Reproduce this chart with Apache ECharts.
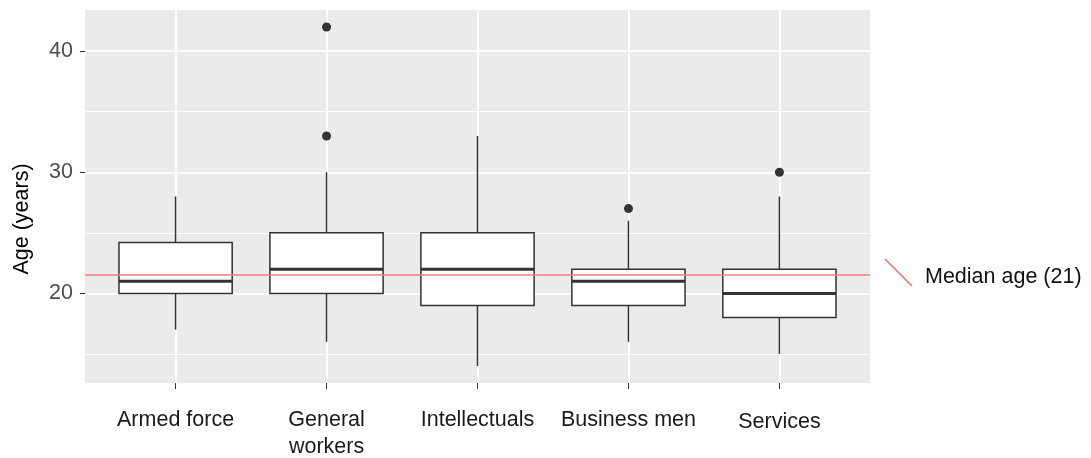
<!DOCTYPE html>
<html>
<head>
<meta charset="utf-8">
<script src="https://cdn.jsdelivr.net/npm/echarts@6/dist/echarts.min.js"></script>
<style>
  html, body { margin: 0; padding: 0; background: #fff; }
  #chart { width: 1091px; height: 458px; }
</style>
</head>
<body>
<div id="chart"></div>
<script>
// box statistics, one entry per category
const categories = ['Armed force', 'General\nworkers', 'Intellectuals', 'Business men', 'Services'];
const whiskerLow = [17, 16, 14, 16, 15];
const q1 = [20, 20, 19, 19, 18];
const medians = [21, 22, 22, 21, 20];
const q3 = [24.2, 25, 25, 22, 22];
const whiskerHigh = [28, 30, 33, 26, 28];
// [category position, age]
const outliers = [[2, 33], [2, 42], [4, 27], [5, 30]];
const medianAge = 21.5;
const yMajor = [20, 30, 40];
const yMinor = [15, 25, 35];
const xPositions = [1, 2, 3, 4, 5];

const FONT = 'Liberation Sans, Arial, sans-serif';
const chart = echarts.init(document.getElementById('chart'));

const boxData = categories.map((c, i) => [i + 1, whiskerLow[i], q1[i], medians[i], q3[i], whiskerHigh[i]]);

const gridLines = []
  .concat(yMinor.map(v => ({ yAxis: v, lineStyle: { width: 1 } })))
  .concat(yMajor.map(v => ({ yAxis: v, lineStyle: { width: 2 } })))
  .concat(xPositions.map(v => ({ xAxis: v, lineStyle: { width: 2 } })));

const option = {
  animation: false,
  grid: {
    left: 85, top: 10, width: 785, height: 373,
    outerBoundsMode: 'none',
    show: true, backgroundColor: '#EBEBEB', borderWidth: 0
  },
  xAxis: {
    type: 'value', min: 0.4, max: 5.6,
    axisLine: { show: false },
    splitLine: { show: false },
    axisTick: { customValues: xPositions, length: 6, lineStyle: { color: '#333333', width: 1 } },
    axisLabel: {
      customValues: xPositions,
      formatter: v => {
        const name = categories[Math.round(v) - 1] || '';
        // last label sits a little lower in the original
        return name === 'Services' ? '{low|' + name + '}' : name;
      },
      rich: { low: { padding: [4, 0, 0, 0], fontSize: 21.5, fontFamily: FONT, color: '#1A1A1A' } },
      color: '#1A1A1A', fontSize: 21.5, fontFamily: FONT, lineHeight: 27, margin: 24
    }
  },
  yAxis: {
    type: 'value', min: 12.6, max: 43.4,
    axisLine: { show: false },
    splitLine: { show: false },
    axisTick: { customValues: yMajor, length: 5, lineStyle: { color: '#333333', width: 1 } },
    axisLabel: { customValues: yMajor, color: '#4D4D4D', fontSize: 21.5, fontFamily: FONT, margin: 12 }
  },
  graphic: [
    {
      type: 'text', x: 22, y: 219, rotation: Math.PI / 2,
      style: { text: 'Age (years)', fill: '#000', font: '21.5px ' + FONT, align: 'center', verticalAlign: 'middle' }
    },
    {
      type: 'line', shape: { x1: 885, y1: 259, x2: 912, y2: 286 },
      style: { stroke: '#F06A6A', lineWidth: 1.5 }
    },
    {
      type: 'text', x: 925, y: 277,
      style: { text: 'Median age (21)', fill: '#111', font: '21.5px ' + FONT, align: 'left', verticalAlign: 'middle' }
    }
  ],
  series: [
    {
      // panel grid lines
      type: 'line', data: [], z: 1, silent: true,
      markLine: {
        z: 1, silent: true, symbol: 'none', animation: false,
        label: { show: false },
        lineStyle: { color: '#FFFFFF', type: 'solid' },
        emphasis: { disabled: true },
        data: gridLines
      }
    },
    {
      type: 'custom', z: 3, data: boxData,
      encode: { x: 0, y: [1, 2, 3, 4, 5] },
      renderItem: (params, api) => {
        const x = api.value(0);
        const lo = api.coord([x, api.value(1)]);
        const b1 = api.coord([x, api.value(2)]);
        const md = api.coord([x, api.value(3)]);
        const b3 = api.coord([x, api.value(4)]);
        const hi = api.coord([x, api.value(5)]);
        const half = api.size([0.75, 0])[0] / 2;
        const stroke = { stroke: '#333333', lineWidth: 1.5 };
        return {
          type: 'group',
          children: [
            { type: 'line', shape: { x1: hi[0], y1: hi[1], x2: b3[0], y2: b3[1] }, style: stroke },
            { type: 'line', shape: { x1: b1[0], y1: b1[1], x2: lo[0], y2: lo[1] }, style: stroke },
            {
              type: 'rect',
              shape: { x: b3[0] - half, y: b3[1], width: half * 2, height: b1[1] - b3[1] },
              style: { fill: '#FFFFFF', stroke: '#333333', lineWidth: 1.5 }
            },
            { type: 'line', shape: { x1: md[0] - half, y1: md[1], x2: md[0] + half, y2: md[1] }, style: { stroke: '#333333', lineWidth: 3 } }
          ]
        };
      }
    },
    {
      type: 'scatter', z: 4, data: outliers,
      symbol: 'circle', symbolSize: 9,
      itemStyle: { color: '#333333', opacity: 1 }
    },
    {
      // reference line
      type: 'line', data: [], z: 6, silent: true,
      markLine: {
        z: 6, silent: true, symbol: 'none', animation: false,
        label: { show: false },
        lineStyle: { color: '#F47C7C', width: 1.5, type: 'solid' },
        emphasis: { disabled: true },
        data: [{ yAxis: medianAge }]
      }
    }
  ]
};

chart.setOption(option);
window.addEventListener('resize', () => chart.resize());
</script>
</body>
</html>
